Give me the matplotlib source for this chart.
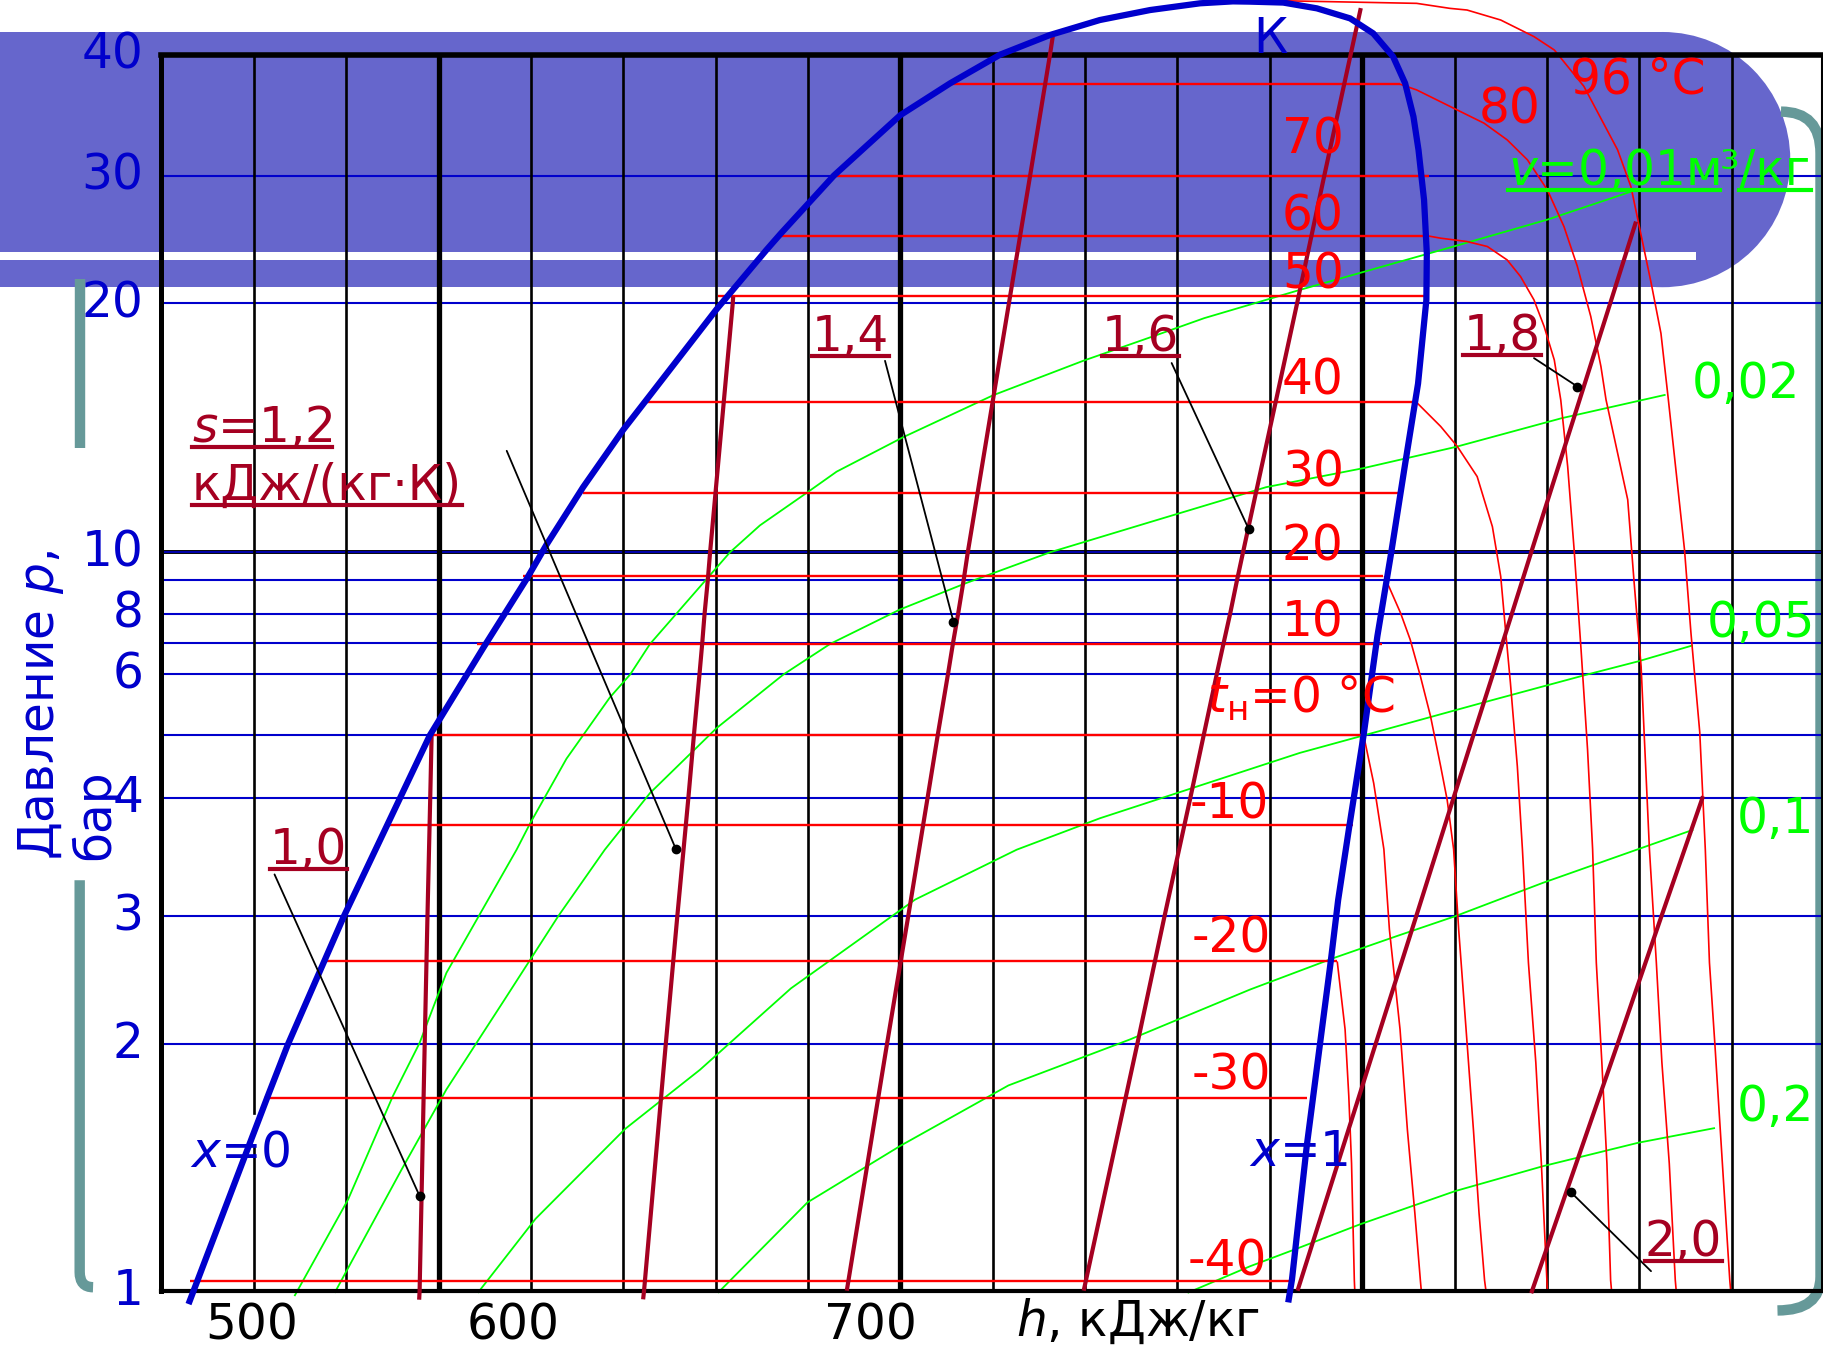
import numpy as np
import matplotlib.pyplot as plt
from matplotlib.patches import Rectangle, Ellipse, PathPatch
from matplotlib.path import Path
from matplotlib.lines import Line2D
from matplotlib.ticker import NullLocator

plt.rcParams['font.family'] = ['DejaVu Sans']
plt.rcParams['mathtext.fontset'] = 'dejavusans'

# lg p - h diagram of R22 (h in kJ/kg, p in bar)

# the printed pressure axis is only roughly logarithmic: grid pressures and their heights on the sheet
axis_p = [0.5, 1, 2, 3, 4, 5, 6, 7, 8, 9, 10, 20, 30, 40, 50, 100]
axis_pos = [-1322, -1110, -898, -788, -686, -632, -580, -553, -528, -499, -475, -261, -151, -47, 2, 154]

# saturation curve: x=0 branch, critical point K, x=1 branch
sat_h = [446.1, 463.0, 467.4, 479.5, 498.1, 509.7, 519.1, 523.4, 531.3, 540.0, 545.8,
         560.2, 571.0, 574.1, 585.6, 600.0, 610.8, 621.6, 632.4, 643.2, 654.1, 664.9, 672.0,
         675.7, 682.9, 690.2, 697.4, 702.4, 706.7, 709.3, 711.1, 712.2, 713.4, 714.0, 713.9,
         712.1, 709.3, 706.3, 703.3, 700.3, 697.1, 694.8, 693.2, 690.8, 688.0, 684.8, 684.1]
sat_p = [0.971, 1.727, 2.0, 3.0, 4.99, 6.84, 9.05, 10.22, 11.99, 14.07, 15.49,
         19.68, 23.70, 24.96, 30.0, 34.64, 37.37, 40.0, 43.2, 45.81, 47.64, 48.91, 49.28,
         49.23, 49.05, 47.95, 46.1, 43.47, 39.81, 37.37, 34.52, 31.88, 27.77, 23.44, 20.22,
         16.0, 12.79, 10.0, 7.23, 4.99, 3.70, 3.121, 2.601, 1.988, 1.502, 1.032, 0.976]

# isotherms, two-phase part
t_sat = [80, 70, 60, 50, 40, 30, 20, 10, 0, -10, -20, -30, -40]
t_sat_p = [37.3, 30.0, 24.8, 20.45, 15.2, 11.8, 9.14, 6.97, 5.0, 3.74, 2.60, 1.72, 1.027]
t_sat_hliq = [610.3, 586.0, 573.8, 560.6, 544.3, 531.2, 518.2, 508.3, 498.2, 488.4, 475.4, 462.3, 446.1]
t_sat_hvap = [708.1, 714.4, 713.9, 714.3, 711.7, 707.8, 704.5, 704.4, 700.3, 698.0, 694.6, 688.0, 684.6]

# isotherms, superheated vapour part
t96_h = [672.0, 682.9, 711.8, 719.0, 722.7, 730.0, 737.2, 741.6, 748.0, 755.3, 758.2, 762.6, 764.7,
         766.3, 769.8, 771.2, 773.1, 774.3, 775.2, 776.4, 778.0, 779.6, 779.8]
t96_p = [49.28, 49.4, 48.9, 47.95, 47.64, 45.81, 42.93, 40.74, 37.1, 31.9, 28.96, 21.3, 18.4,
         15.3, 10.07, 7.32, 5.04, 3.53, 2.59, 1.99, 1.43, 1.03, 1.0]
t80_h = [708.1, 711.8, 719.1, 726.4, 731.4, 735.8, 740.1, 743.7, 746.6, 749.5, 751.7, 752.8, 757.5,
         758.9, 760.4, 762.2, 763.7, 764.9, 766.5, 767.8, 768.0]
t80_p = [37.3, 36.78, 35.35, 33.98, 32.66, 31.14, 28.67, 25.52, 22.49, 19.29, 16.78, 15.3, 11.58,
         8.91, 6.24, 3.53, 2.59, 1.90, 1.43, 1.03, 1.0]
t60_h = [713.9, 717.0, 722.7, 727.1, 731.4, 734.3, 737.2, 739.4, 741.6, 743.0, 744.5, 745.9, 747.4,
         748.8, 749.9, 750.7, 751.9, 753.0, 753.8, 754.0]
t60_p = [24.8, 24.6, 24.34, 23.96, 22.96, 21.78, 20.23, 18.76, 17.09, 15.29, 12.70, 10.07, 6.77,
         4.75, 3.53, 2.59, 1.90, 1.43, 1.03, 1.0]
t40_h = [711.7, 717.0, 720.6, 724.9, 728.2, 730.0, 731.1, 732.1, 733.6, 734.7, 736.0, 737.6, 738.8, 740.0, 740.1]
t40_p = [15.2, 14.20, 13.43, 12.35, 10.74, 9.13, 7.33, 5.85, 4.47, 3.53, 2.59, 1.90, 1.43, 1.03, 1.0]
t20_h = [704.8, 708.3, 710.4, 712.6, 714.8, 717.0, 718.4, 719.8, 720.9, 722.5, 724.1, 725.3, 726.5, 726.8]
t20_p = [9.14, 8.03, 7.11, 5.97, 5.29, 4.47, 3.98, 3.53, 2.875, 2.096, 1.57, 1.245, 1.03, 1.0]
t0_h = [700.3, 702.5, 704.7, 705.9, 708.2, 709.8, 711.4, 712.6, 712.8]
t0_p = [5.0, 4.21, 3.53, 2.875, 2.096, 1.57, 1.245, 1.03, 1.0]
tm20_h = [694.6, 696.3, 697.1, 697.7, 698.3, 698.4]
tm20_p = [2.60, 2.096, 1.73, 1.43, 1.03, 1.0]

# isentropes s, kJ/(kg K)
s10_h = [498.5, 498.2, 497.6, 497.0, 495.9, 495.8]
s10_p = [5.0, 4.0, 3.0, 2.0, 1.0, 0.975]
s12_h = [563.8, 563.7, 558.8, 558.3, 557.6, 557.1, 556.5, 555.3, 554.1, 551.7, 549.2, 544.5, 544.3]
s12_p = [20.45, 20, 10, 9, 8, 7, 6, 5, 4, 3, 2, 1, 0.976]
s14_h = [633.0, 632.4, 628.1, 623.5, 614.6, 613.7, 612.5, 611.4, 610.3, 608.1, 605.9, 601.7, 597.1, 588.4]
s14_p = [42.93, 40, 30, 20, 10, 9, 8, 7, 6, 5, 4, 3, 2, 1]
s16_h = [699.7, 697.5, 691.8, 685.9, 674.2, 672.9, 671.4, 670.0, 668.5, 665.7, 662.8, 657.2, 651.3, 639.7]
s16_p = [48.0, 40, 30, 20, 10, 9, 8, 7, 6, 5, 4, 3, 2, 1]
s18_h = [759.3, 753.7, 736.6, 734.7, 732.4, 730.4, 728.3, 724.1, 719.8, 711.7, 702.9, 686.0]
s18_p = [25.93, 20, 10, 9, 8, 7, 6, 5, 4, 3, 2, 1]
s20_h = [773.8, 773.7, 764.8, 755.3, 736.8, 736.6]
s20_p = [4.02, 4, 3, 2, 1, 0.993]

# isochores v, m3/kg
v001_h = [468.8, 480.4, 490.1, 495.9, 501.7, 516.9, 519.8, 527.7, 537.1, 541.5, 545.8, 558.1, 563.1,
          569.6, 579.7, 586.2, 600.6, 620.1, 639.6, 654.1, 665.8, 686.5, 708.2, 719.8, 740.1, 758.2]
v001_p = [0.985, 1.292, 1.728, 2.008, 2.507, 3.526, 3.756, 4.594, 5.598, 6.0, 6.97, 9.05, 10.0,
          10.78, 11.80, 12.52, 13.78, 15.49, 17.05, 18.2, 19.20, 20.88, 22.84, 23.96, 26.09, 28.51]
v002_h = [477.5, 492.0, 501.7, 514.3, 525.9, 536.0, 545.8, 560.2, 574.7, 584.8, 599.9, 614.4, 632.4,
          654.1, 679.2, 700.2, 720.2, 743.2, 765.7]
v002_p = [0.994, 1.406, 1.761, 2.304, 3.0, 3.526, 4.067, 5.103, 6.0, 6.97, 8.125, 8.92, 10.0,
          10.88, 11.99, 12.64, 13.41, 14.53, 15.51]
v005_h = [508.5, 521.0, 540.4, 556.6, 576.3, 603.2, 625.2, 643.2, 686.5, 700.3, 726.4, 748.8, 759.7, 771.6]
v005_p = [0.994, 1.224, 1.576, 1.861, 2.387, 3.124, 3.526, 3.805, 4.69, 4.99, 5.516, 6.0, 6.395, 6.92]
v01_h = [560.5, 579.9, 600.1, 623.4, 649.7, 675.7, 693.9, 707.4, 720.1, 739.1, 771.7]
v01_p = [0.994, 1.282, 1.504, 1.781, 2.03, 2.378, 2.629, 2.816, 3.0, 3.253, 3.701]
v02_h = [662.2, 675.7, 685.4, 699.5, 720.1, 739.1, 759.8, 776.4]
v02_p = [0.994, 1.071, 1.123, 1.205, 1.323, 1.419, 1.516, 1.58]

# points marked on the isentropes for the labels
dot_h = [495.9, 551.4, 611.5, 675.4, 746.6, 745.2]
dot_p = [1.305, 3.53, 7.72, 10.68, 15.87, 1.319]

ytick_p = [1, 2, 3, 4, 6, 8, 10, 20, 30, 40]
ytick_txt = ['1', '2', '3', '4', '6', '8', '10', '20', '30', '40']
xtick_txt = ['500', '600', '700']
t_labels = ['96 °C', '80', '70', '60', '50', '40', '30', '20', '10',
            '$t_{\\mathregular{н}}$=0 °C', '-10', '-20', '-30', '-40']
s_labels = ['1,0', '$s$=1,2', 'кДж/(кг·К)', '1,4', '1,6', '1,8', '2,0']
v_labels = ['0,02', '0,05', '0,1', '0,2']

BLUE = '#0000CC'
RED = '#FF0000'
WINE = '#A50021'
GREEN = '#00FF00'
TEAL = '#669999'
BANNER = '#6666CC'

lg_axis_p = np.log10(axis_p)


def fwd(p):
    p = np.clip(np.asarray(p, dtype=float), 1e-3, None)
    return np.interp(np.log10(p), lg_axis_p, axis_pos)


def inv(v):
    return 10 ** np.interp(v, axis_pos, lg_axis_p)


W, H = 1568.0, 1161.0   # layout units of the sheet


def fx(x):
    return x / W


def fy(y):
    return 1 - y / H


fig = plt.figure(figsize=(18.24, 13.5), dpi=100)

# slide decoration behind the diagram
fig.add_artist(Rectangle((fx(-5), fy(247)), fx(1434), fy(27.5) - fy(247), transform=fig.transFigure,
                         color=BANNER, lw=0, zorder=0))
fig.add_artist(Ellipse((fx(1429.25), fy(137.25)), 2 * 109.75 / W, 2 * 109.75 / H, transform=fig.transFigure,
                       color=BANNER, lw=0, zorder=0))
fig.add_artist(Rectangle((0, fy(224)), fx(1458), fy(217) - fy(224), transform=fig.transFigure,
                         color='white', lw=0, zorder=0.1))

M, L, C = Path.MOVETO, Path.LINETO, Path.CURVE3


def bracket(pts, codes):
    verts = [(fx(x), fy(y)) for x, y in pts]
    fig.add_artist(PathPatch(Path(verts, codes), transform=fig.transFigure, fill=False,
                             edgecolor=TEAL, lw=7.5, capstyle='butt', zorder=0.2))


bracket([(68.5, 240), (68.5, 385)], [M, L])
bracket([(68.5, 757), (68.5, 1094), (68.5, 1107), (80, 1107)], [M, L, C, C])
bracket([(1531, 96), (1565, 96), (1565, 132), (1565, 1098), (1565, 1127), (1528, 1127)], [M, C, C, L, C, C])

ax = fig.add_axes([fx(138.8), fy(1110), fx(1566) - fx(138.8), fy(47) - fy(1110)])
ax.set_zorder(1)
ax.patch.set_visible(False)
ax.set_yscale('function', functions=(fwd, inv))
ax.set_xlim(440, 799.5)
ax.set_ylim(1, 40)

# grid
for h in range(460, 800, 20):
    lw = 3.8 if h % 100 == 0 else 1.9
    if h == 460:
        ax.plot([h, h], [1, 1.505], color='black', lw=lw, zorder=1.5)
        ax.plot([h, h], [1.649, 40], color='black', lw=lw, zorder=1.5)
    else:
        ax.plot([h, h], [1, 40], color='black', lw=lw, zorder=1.5)
for p in [2, 3, 4, 5, 6, 7, 8, 9, 20, 30]:
    ax.axhline(p, color=BLUE, lw=1.5, zorder=1)
ax.axhline(10, color='black', lw=2.8, zorder=1)
ax.axhline(10, color=BLUE, lw=1.2, zorder=1.1)

kw = dict(clip_on=False, solid_capstyle='butt')
# isochores
for hh, pp in [(v001_h, v001_p), (v002_h, v002_p), (v005_h, v005_p), (v01_h, v01_p), (v02_h, v02_p)]:
    ax.plot(hh, pp, color=GREEN, lw=1.3, zorder=2, **kw)
# isotherms
ax.hlines(t_sat_p, t_sat_hliq, t_sat_hvap, color=RED, lw=1.7, zorder=2.5)
for hh, pp in [(t96_h, t96_p), (t80_h, t80_p), (t60_h, t60_p), (t40_h, t40_p),
               (t20_h, t20_p), (t0_h, t0_p), (tm20_h, tm20_p)]:
    ax.plot(hh, pp, color=RED, lw=1.2, zorder=2.5, **kw)
# isentropes
for hh, pp in [(s10_h, s10_p), (s12_h, s12_p), (s14_h, s14_p), (s16_h, s16_p), (s18_h, s18_p), (s20_h, s20_p)]:
    ax.plot(hh, pp, color=WINE, lw=3, zorder=3, **kw)
# saturation curve
ax.plot(sat_h, sat_p, color=BLUE, lw=4.5, zorder=4, clip_on=False, solid_joinstyle='round')

# leaders from the isentrope labels
lead_from = [(236, 752), (435.6, 387.7), (760.8, 310.3), (1007.2, 312.2), (1318.7, 308), (1419.3, 1093.2)]
for (x0, y0), h, p in zip(lead_from, dot_h, dot_p):
    ax.annotate('', xy=(h, p), xytext=(fx(x0), fy(y0)), textcoords='figure fraction',
                arrowprops=dict(arrowstyle='-', color='black', lw=1.3, shrinkA=0, shrinkB=0),
                annotation_clip=False, zorder=5)
ax.plot(dot_h, dot_p, 'o', color='black', ms=6, ls='none', zorder=6, clip_on=False)

# axes frame and ticks
for side, lw in [('left', 3.6), ('top', 4.0), ('bottom', 3.0), ('right', 1.5)]:
    ax.spines[side].set_linewidth(lw)
    ax.spines[side].set_color('black')
ax.set_xticks([])
ax.set_yticks(ytick_p)
ax.set_yticklabels(ytick_txt)
ax.yaxis.set_minor_locator(NullLocator())
ax.tick_params(axis='y', length=0, pad=13, labelsize=35, labelcolor=BLUE)
plt.setp(ax.get_yticklabels(), va='center')

renderer = fig.canvas.get_renderer()


def put(x, y, parts, color, under=False, size=35):
    cur = fx(x)
    for s in parts:
        t = fig.text(cur, fy(y), s, color=color, fontsize=size, ha='left', va='baseline', zorder=5)
        bb = t.get_window_extent(renderer).transformed(fig.transFigure.inverted())
        if under and s != '³':
            uy = fy(y + 4.5)
            fig.add_artist(Line2D([bb.x0, bb.x1], [uy, uy], transform=fig.transFigure,
                                  color=color, lw=3, zorder=5))
        cur = bb.x1


# isotherm labels
t_pos = [(1350, 80), (1271, 106), (1102, 132), (1102, 198), (1102, 248), (1102, 339), (1102, 418),
         (1102, 482), (1102, 547), (1038, 613), (1023, 704), (1024, 819), (1024, 937), (1021, 1097)]
for s, (x, y) in zip(t_labels, t_pos):
    put(x, y, [s], RED)

# isentrope labels
s_pos = [(232, 743), (165, 380), (165, 430), (698, 302), (947, 302), (1258, 301), (1414, 1080)]
for s, (x, y) in zip(s_labels, s_pos):
    put(x, y, [s], WINE, under=True)

# isochore labels
put(1296, 159, ['$v$=0,01м', '³', '/кг'], GREEN, under=True)
v_pos = [(1454, 342), (1467, 548), (1493, 716), (1493, 964)]
for s, (x, y) in zip(v_labels, v_pos):
    put(x, y, [s], GREEN)

# saturation labels
put(1077, 46, ['К'], BLUE)
put(163, 1003, ['$x$=0'], BLUE)
put(1074, 1003, ['$x$=1'], BLUE)

# axis texts
for s, x in zip(xtick_txt, [216, 441, 748]):
    fig.text(fx(x), fy(1152), s, ha='center', va='baseline', fontsize=35, color='black')
fig.text(fx(873), fy(1149), '$h$, кДж/кг', ha='left', va='baseline', fontsize=35, color='black')
fig.text(fx(14), fy(740), 'Давление $p$,\nбар', rotation=90, ha='left', va='bottom',
         multialignment='left', linespacing=1.1, fontsize=35, color=BLUE)

fig.savefig('out.png', dpi=100)
